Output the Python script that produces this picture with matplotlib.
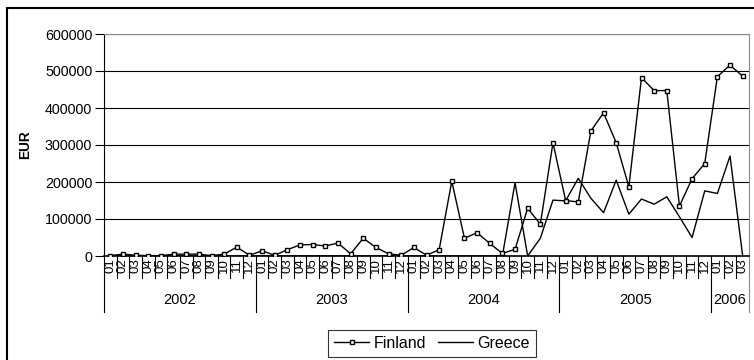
import matplotlib
matplotlib.use("Agg")
import matplotlib.pyplot as plt
from matplotlib.patches import Rectangle
from matplotlib.lines import Line2D

plt.rcParams['font.family'] = ['Liberation Sans', 'DejaVu Sans']

years = ["2002", "2003", "2004", "2005", "2006"]
months_per_year = [12, 12, 12, 12, 3]
month_labels = ["01", "02", "03", "04", "05", "06", "07", "08", "09", "10", "11", "12"]

finland = [1000, 5000, 2000, 1000, 1000, 5000, 5000, 5000, 1000, 5000, 24000, 2000,
           14000, 2000, 17000, 30000, 31000, 27000, 35000, 6000, 48000, 23000, 6000, 2000,
           23000, 2000, 17000, 202000, 48000, 63000, 34000, 7000, 18000, 129000, 86000, 306000,
           150000, 146000, 338000, 387000, 306000, 187000, 482000, 447000, 447000, 135000, 209000, 250000,
           485000, 516000, 486000]
greece = [0, 0, 0, 0, 0, 0, 0, 0, 0, 0, 0, 0,
          0, 0, 0, 0, 0, 0, 0, 0, 0, 0, 0, 0,
          0, 0, 0, 0, 0, 0, 0, 0, 198000, 0, 48000, 151000,
          149000, 210000, 156000, 117000, 205000, 113000, 154000, 140000, 160000, 106000, 50000, 176000,
          169000, 270000, 0]

W, H = 754, 360
fig = plt.figure(figsize=(W / 100, H / 100), dpi=100)
L, R, T, B = 104, 749, 34, 256
ax = fig.add_axes([L / W, 1 - B / H, (R - L) / W, (B - T) / H])

n = len(finland)
x = list(range(n))
ax.plot(x, greece, color='black', lw=1.0, zorder=3)
ax.plot(x, finland, color='black', lw=1.0, marker='s', markersize=3.3,
        markerfacecolor='white', markeredgecolor='black', markeredgewidth=1.0, zorder=4)

ax.set_xlim(-0.5, n - 0.5)
ax.set_ylim(0, 600000)
ax.set_yticks(range(0, 600001, 100000))
ax.set_yticklabels([str(v) for v in range(0, 600001, 100000)], fontsize=10.3)
ax.tick_params(axis='y', length=6.5, width=0.8, pad=2)
ax.grid(axis='y', color='black', lw=0.8)
ax.set_axisbelow(True)
ax.set_xticks([])
for s in ['top', 'right']:
    ax.spines[s].set_color('#888888')
ax.spines['left'].set_color('black')
ax.spines['bottom'].set_color('black')
ax.spines['bottom'].set_linewidth(1.2)
ax.set_ylabel('EUR', fontweight='bold', fontsize=9.8, labelpad=9)

ph = B - T
tr = ax.get_xaxis_transform()
i = 0
for yi, (yr, cnt) in enumerate(zip(years, months_per_year)):
    start = i
    for m in range(cnt):
        ax.text(i, -2 / ph, month_labels[m], rotation=90, ha='center', va='top',
                fontsize=9.5, transform=tr, clip_on=False)
        if m > 0:
            ax.add_line(Line2D([i - 0.5, i - 0.5], [0, -22 / ph], color='black', lw=0.8,
                               transform=tr, clip_on=False))
        i += 1
    ax.add_line(Line2D([start - 0.5, start - 0.5], [0, -56 / ph], color='black', lw=0.8,
                       transform=tr, clip_on=False))
    ax.text((start + i - 1) / 2, -44 / ph, yr, ha='center', va='center', fontsize=10.5,
            transform=tr, clip_on=False)
ax.add_line(Line2D([n - 0.5, n - 0.5], [0, -56 / ph], color='#888888', lw=0.8,
                   transform=tr, clip_on=False))

handles = [Line2D([], [], color='black', lw=1.0, marker='s', markersize=3.3,
                  markerfacecolor='white', markeredgecolor='black'),
           Line2D([], [], color='black', lw=1.0)]
leg = fig.legend(handles, ['Finland', 'Greece'], loc='center',
                 bbox_to_anchor=(432 / W, 1 - 343.5 / H), ncol=2, fontsize=11.5,
                 frameon=True, fancybox=False, handlelength=2.2, columnspacing=0.7,
                 handletextpad=0.3, borderpad=0.4, borderaxespad=0)
leg.get_frame().set_edgecolor('black')
leg.get_frame().set_linewidth(0.8)

fig.add_artist(Rectangle((7 / W, -0.1), 1.0, 1.1 - 8 / H, transform=fig.transFigure,
                         fill=False, edgecolor='black', lw=1.5))

fig.savefig('out.png', dpi=100)
